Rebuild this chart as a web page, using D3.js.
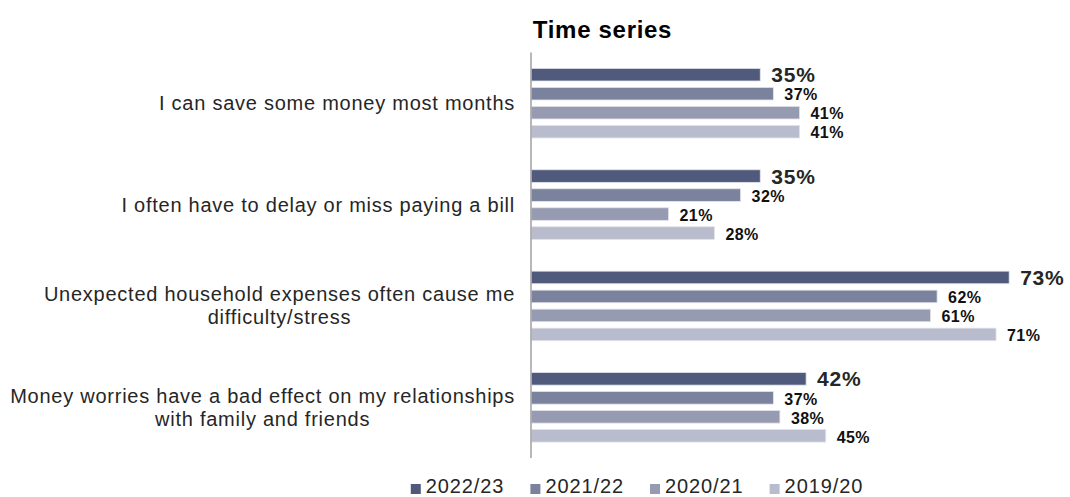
<!DOCTYPE html>
<html>
<head>
<meta charset="utf-8">
<script src="https://cdn.jsdelivr.net/npm/d3@7"></script>
<style>
  html, body { margin: 0; padding: 0; background: #ffffff; }
  svg { display: block; font-family: "Liberation Sans", Arial, sans-serif; }
</style>
</head>
<body>
<svg id="chart" width="1070" height="497"></svg>
<script>
// Statements (each entry is the list of lines it is drawn on)
const categories = [
  ["I can save some money most months"],
  ["I often have to delay or miss paying a bill"],
  ["Unexpected household expenses often cause me", "difficulty/stress"],
  ["Money worries have a bad effect on my relationships", "with family and friends"]
];
const seriesNames = ["2022/23", "2021/22", "2020/21", "2019/20"];
// Share agreeing (%), one array per year, in category order
const values2022 = [35, 35, 73, 42];
const values2021 = [37, 32, 62, 37];
const values2020 = [41, 21, 61, 38];
const values2019 = [41, 28, 71, 45];
const seriesValues = [values2022, values2021, values2020, values2019];
const seriesColors = ["#4f5a7d", "#7b829e", "#969bb2", "#b9bccc"];

const svg = d3.select("#chart");

const x0 = 531;
const x = d3.scaleLinear().domain([0, 100]).range([x0, x0 + 655]);

const catIdx = d3.range(categories.length);
const y = d3.scaleBand().domain(catIdx).range([52.5, 458]).paddingInner(0).paddingOuter(0);
const yIn = d3.scaleBand().domain(d3.range(seriesNames.length))
  .range([0, y.bandwidth()]).paddingInner(0.337).paddingOuter(0.837);

// Title
svg.append("text")
  .attr("x", 602.5).attr("y", 38)
  .attr("text-anchor", "middle")
  .attr("font-size", 24).attr("font-weight", "bold")
  .attr("letter-spacing", 0.7)
  .attr("fill", "#000")
  .text("Time series");

// Bars
const groups = svg.append("g").selectAll("g")
  .data(catIdx).join("g")
  .attr("transform", d => `translate(0,${y(d)})`);

groups.selectAll("rect")
  .data(ci => seriesValues.map((vals, si) => ({ si, v: vals[ci] })))
  .join("rect")
  .attr("x", x(0))
  .attr("y", d => yIn(d.si))
  .attr("width", d => x(d.v) - x(0))
  .attr("height", yIn.bandwidth())
  .attr("fill", d => seriesColors[d.si])
  .attr("stroke", "#e2e4ea")
  .attr("stroke-width", 0.8);

// Value labels
groups.selectAll("text.val")
  .data(ci => seriesValues.map((vals, si) => ({ si, v: vals[ci] })))
  .join("text")
  .attr("class", "val")
  .attr("x", d => x(d.v) + 11)
  .attr("y", d => yIn(d.si) + yIn.bandwidth() / 2 + (d.si === 0 ? 7.5 : 6.8))
  .attr("font-size", d => d.si === 0 ? 21 : 16)
  .attr("font-weight", "bold")
  .attr("letter-spacing", d => d.si === 0 ? 0.8 : 0.4)
  .attr("fill", d => d.si === 0 ? "#262626" : "#111")
  .text(d => d.v + "%");

// Axis line
svg.append("line")
  .attr("x1", x(0)).attr("x2", x(0))
  .attr("y1", y.range()[0]).attr("y2", y.range()[1])
  .attr("stroke", "#a6a6a6").attr("stroke-width", 1.6);

// Category labels: each block centred on its own widest line, right edge fixed
const labelRight = 515;
const lineH = 23;
catIdx.forEach(ci => {
  const lines = categories[ci];
  const t = svg.append("text")
    .attr("text-anchor", "middle")
    .attr("font-size", 20)
    .attr("letter-spacing", 0.75)
    .attr("fill", "#262626");
  const cy = y(ci) + y.bandwidth() / 2;
  const firstBase = cy - (lines.length - 1) * lineH / 2 + 7;
  lines.forEach((ln, k) => {
    t.append("tspan").attr("y", firstBase + k * lineH).text(ln);
  });
  let maxW = 0;
  t.selectAll("tspan").each(function () {
    maxW = Math.max(maxW, this.getComputedTextLength());
  });
  t.selectAll("tspan").attr("x", labelRight - maxW / 2);
});

// Legend
const legend = svg.append("g");
const items = legend.selectAll("g").data(seriesNames).join("g");
items.append("rect")
  .attr("width", 10).attr("height", 10)
  .attr("y", 484)
  .attr("fill", (d, i) => seriesColors[i]);
items.append("text")
  .attr("x", 15).attr("y", 493)
  .attr("font-size", 20)
  .attr("letter-spacing", 0.9)
  .attr("fill", "#262626")
  .text(d => d);
const widths = [];
items.each(function () {
  widths.push(15 + d3.select(this).select("text").node().getComputedTextLength());
});
const gap = 26;
const total = d3.sum(widths) + gap * (widths.length - 1);
let cx = 637 - total / 2;
items.attr("transform", (d, i) => {
  const tx = cx;
  cx += widths[i] + gap;
  return `translate(${tx},0)`;
});
</script>
</body>
</html>
